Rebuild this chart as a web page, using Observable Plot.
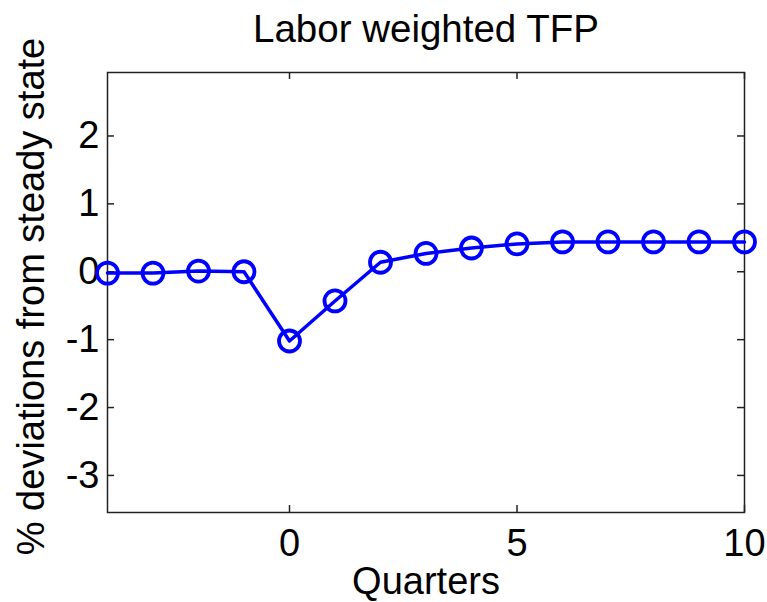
<!DOCTYPE html>
<html>
<head>
<meta charset="utf-8">
<script src="https://cdn.jsdelivr.net/npm/d3@7"></script>
<script src="https://cdn.jsdelivr.net/npm/@observablehq/plot@0.6"></script>
<style>
  body { margin: 0; background: #fff; }
  #chart svg { display: block; }
</style>
</head>
<body>
<div id="chart"></div>
<script>
// impulse response, quarters -4..10
const quarters = [-4, -3, -2, -1, 0, 1, 2, 3, 4, 5, 6, 7, 8, 9, 10];
const tfp = [-0.02, -0.02, 0.01, 0.0, -1.02, -0.43, 0.14, 0.27, 0.35, 0.41, 0.44, 0.44, 0.44, 0.44, 0.44];
const xTicks = [0, 5, 10];
const yTicks = [-3, -2, -1, 0, 1, 2];

const data = quarters.map((q, i) => ({q, v: tfp[i]}));
const blue = "#0000ff";
const font = "Liberation Sans, Arial, sans-serif";

let chart = Plot.plot({
  width: 767,
  height: 602,
  marginLeft: 107,
  marginRight: 23,
  marginTop: 72,
  marginBottom: 90,
  style: {fontFamily: font, fontSize: "38px", color: "#000", background: "#fff"},
  x: {domain: [-4, 10]},
  y: {domain: [-3.546, 2.935]},
  marks: [
    Plot.frame({stroke: "#222", strokeWidth: 1.5}),
    // inward tick marks on all four sides
    Plot.tickY(yTicks, {y: d => d, stroke: "#222", strokeWidth: 1.5, insetRight: 630}),
    Plot.tickY(yTicks, {y: d => d, stroke: "#222", strokeWidth: 1.5, insetLeft: 630}),
    Plot.tickX(xTicks, {x: d => d, stroke: "#222", strokeWidth: 1.5, insetTop: 433}),
    Plot.tickX(xTicks, {x: d => d, stroke: "#222", strokeWidth: 1.5, insetBottom: 433}),
    Plot.axisX(xTicks, {tickSize: 0, tickPadding: 17, tickFormat: d => String(d), label: null}),
    Plot.axisY(yTicks, {tickSize: 0, tickPadding: 8, tickFormat: d => String(d), label: null}),
    Plot.line(data, {x: "q", y: "v", stroke: blue, strokeWidth: 3.5}),
    Plot.dot(data, {x: "q", y: "v", r: 10.5, stroke: blue, strokeWidth: 3.8, fill: "none"}),
    Plot.text(["Labor weighted TFP"], {frameAnchor: "top", lineAnchor: "bottom", dy: -31, fontSize: 38.5}),
    Plot.text(["Quarters"], {frameAnchor: "bottom", lineAnchor: "bottom", dy: 81, fontSize: 38}),
    Plot.text(["% deviations from steady state"], {frameAnchor: "left", textAnchor: "middle", lineAnchor: "bottom", rotate: -90, dx: -64, dy: 4, fontSize: 38})
  ]
});
d3.select('#chart').append(() => chart);
</script>
</body>
</html>
